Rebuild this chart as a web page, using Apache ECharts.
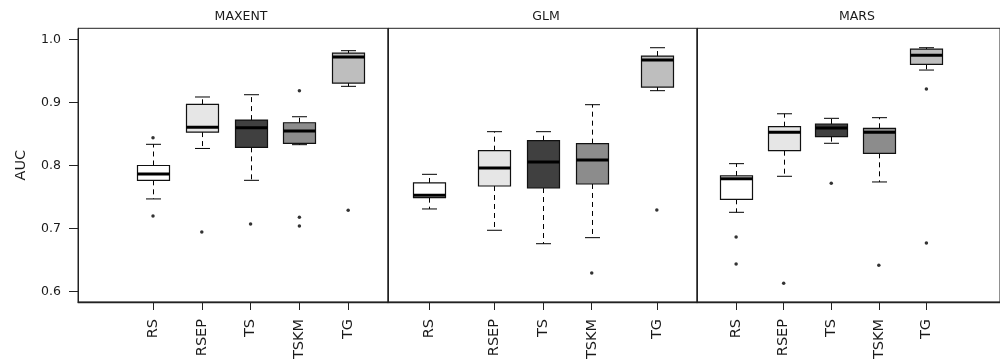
<!DOCTYPE html>
<html>
<head>
<meta charset="utf-8">
<script src="https://cdn.jsdelivr.net/npm/echarts@6/dist/echarts.min.js"></script>
<style>
html,body{margin:0;padding:0;background:#fff;}
#chart{width:1000px;height:363px;}
</style>
</head>
<body>
<div id="chart"></div>
<script>
// ---------------- data ----------------
const categories = ['RS', 'RSEP', 'TS', 'TSKM', 'TG'];
const panelNames = ['MAXENT', 'GLM', 'MARS'];
const yTickValues = [0.6, 0.7, 0.8, 0.9, 1.0];

// x positions of the boxes inside each panel
const maxentPos = [1, 2, 3, 4, 5];
const glmPos = [1, 2.333, 3.333, 4.333, 5.667];
const marsPos = [1, 2, 3, 4, 5];

// [lower whisker, Q1, median, Q3, upper whisker]
const maxentBoxes = [
  [0.747, 0.7765, 0.7865, 0.800, 0.8336],
  [0.827, 0.853, 0.8605, 0.897, 0.9086],
  [0.7765, 0.8288, 0.860, 0.872, 0.9122],
  [0.833, 0.835, 0.8547, 0.8678, 0.8773],
  [0.9255, 0.9307, 0.972, 0.9783, 0.982]
];
const glmBoxes = [
  [0.7311, 0.749, 0.7528, 0.7723, 0.786],
  [0.6973, 0.7675, 0.796, 0.8235, 0.8536],
  [0.676, 0.7643, 0.8055, 0.8393, 0.8536],
  [0.6856, 0.7707, 0.8087, 0.8346, 0.8964],
  [0.9186, 0.9244, 0.9672, 0.9735, 0.9867]
];
const marsBoxes = [
  [0.7258, 0.7464, 0.7791, 0.7834, 0.8029],
  [0.7829, 0.8235, 0.8526, 0.8615, 0.882],
  [0.8352, 0.8457, 0.8594, 0.8658, 0.8748],
  [0.7739, 0.8193, 0.8526, 0.859, 0.8758],
  [0.9513, 0.9604, 0.9746, 0.9846, 0.9867]
];

const maxentOutliers = [[0.844, 0.720], [0.6946], [0.7073], [0.9186, 0.7179, 0.7041], [0.729]];
const glmOutliers = [[], [], [], [0.6297], [0.7295]];
const marsOutliers = [[0.6867, 0.6439], [0.6133], [0.7718], [0.6418], [0.9212, 0.6772]];

// ---------------- styling / layout ----------------
const fills = ['#ffffff', '#e6e6e6', '#404040', '#8c8c8c', '#bebebe'];
const FONT = 'DejaVu Sans';
const TXT = '#1a1a1a';
const BOX_W = 32, CAP_W = 15;
const panelLayout = [
  { left: 78, width: 310, xmin: -0.537, xmax: 5.816, titleX: 236 },
  { left: 388, width: 309, xmin: 0.158, xmax: 6.49, titleX: 541 },
  { left: 697, width: 310, xmin: 0.178, xmax: 6.547, titleX: 852 }
];
const GRID_TOP = 28.3, GRID_H = 273.7;
const YMIN = 0.5836, YMAX = 1.0175;

const panelPos = [maxentPos, glmPos, marsPos];
const panelBoxes = [maxentBoxes, glmBoxes, marsBoxes];
const panelOut = [maxentOutliers, glmOutliers, marsOutliers];

const grids = [], xAxes = [], yAxes = [], series = [], titles = [];

panelLayout.forEach((p, i) => {
  grids.push({
    left: p.left, top: GRID_TOP, width: p.width, height: GRID_H,
    show: true, borderColor: '#222', borderWidth: 1, backgroundColor: 'transparent',
    containLabel: false
  });
  const pos = panelPos[i];
  xAxes.push({
    type: 'value', gridIndex: i, min: p.xmin, max: p.xmax, position: 'bottom',
    splitLine: { show: false },
    axisLine: { show: true, onZero: false, lineStyle: { color: '#222', width: 1.3 } },
    axisTick: { show: true, length: 8, lineStyle: { color: '#222' }, customValues: pos },
    axisLabel: {
      show: true, rotate: 90, margin: 17, color: TXT, fontFamily: FONT, fontSize: 14.5,
      customValues: pos,
      formatter: v => {
        let k = 0, best = 1e9;
        pos.forEach((q, j) => { if (Math.abs(q - v) < best) { best = Math.abs(q - v); k = j; } });
        return categories[k];
      }
    }
  });
  yAxes.push({
    type: 'value', gridIndex: i, min: YMIN, max: YMAX, position: 'left',
    splitLine: { show: false },
    axisLine: { show: true, onZero: false, lineStyle: { color: '#222', width: 1 } },
    axisTick: { show: i === 0, length: 9, lineStyle: { color: '#222' }, customValues: yTickValues },
    axisLabel: {
      show: i === 0, margin: 17, color: TXT, fontFamily: FONT, fontSize: 12.5,
      customValues: yTickValues, formatter: v => v.toFixed(1)
    },
    name: i === 0 ? 'AUC' : '',
    nameLocation: 'middle', nameRotate: 90, nameGap: 49,
    nameTextStyle: { color: TXT, fontFamily: FONT, fontSize: 14.5 }
  });
  titles.push({
    text: panelNames[i], left: p.titleX, top: 5, textAlign: 'center',
    textStyle: { color: TXT, fontFamily: FONT, fontSize: 12.5, fontWeight: 'normal' }
  });

  const boxData = panelBoxes[i].map((b, j) => [pos[j], b[0], b[1], b[2], b[3], b[4], j]);
  series.push({
    type: 'custom', xAxisIndex: i, yAxisIndex: i, data: boxData, clip: false,
    renderItem: (params, api) => {
      const x = api.value(0);
      const cx = Math.round(api.coord([x, 0.8])[0]) + 0.5;
      const yLow = api.coord([x, api.value(1)])[1];
      const yQ1 = api.coord([x, api.value(2)])[1];
      const yMed = api.coord([x, api.value(3)])[1];
      const yQ3 = api.coord([x, api.value(4)])[1];
      const yHigh = api.coord([x, api.value(5)])[1];
      const fill = fills[api.value(6)];
      const ln = { stroke: '#000', lineWidth: 1 };
      return {
        type: 'group',
        children: [
          { type: 'line', shape: { x1: cx, y1: yQ3, x2: cx, y2: yHigh }, style: Object.assign({ lineDash: [5, 4] }, ln) },
          { type: 'line', shape: { x1: cx, y1: yQ1, x2: cx, y2: yLow }, style: Object.assign({ lineDash: [5, 4] }, ln) },
          { type: 'line', shape: { x1: cx - CAP_W / 2, y1: yHigh, x2: cx + CAP_W / 2, y2: yHigh }, style: ln },
          { type: 'line', shape: { x1: cx - CAP_W / 2, y1: yLow, x2: cx + CAP_W / 2, y2: yLow }, style: ln },
          { type: 'rect', shape: { x: cx - BOX_W / 2, y: yQ3, width: BOX_W, height: yQ1 - yQ3 },
            style: { fill: fill, stroke: '#111', lineWidth: 1.2 } },
          { type: 'line', shape: { x1: cx - BOX_W / 2, y1: yMed, x2: cx + BOX_W / 2, y2: yMed },
            style: { stroke: '#000', lineWidth: 3 } }
        ]
      };
    }
  });

  const outData = [];
  panelOut[i].forEach((arr, j) => arr.forEach(v => outData.push([pos[j], v])));
  series.push({
    type: 'scatter', xAxisIndex: i, yAxisIndex: i, data: outData,
    symbol: 'circle', symbolSize: 3.5, itemStyle: { color: '#000' }, silent: true
  });
});

const chart = echarts.init(document.getElementById('chart'), null, { renderer: 'canvas' });
chart.setOption({
  animation: false,
  backgroundColor: '#fff',
  title: titles,
  grid: grids,
  xAxis: xAxes,
  yAxis: yAxes,
  series: series
});
</script>
</body>
</html>
